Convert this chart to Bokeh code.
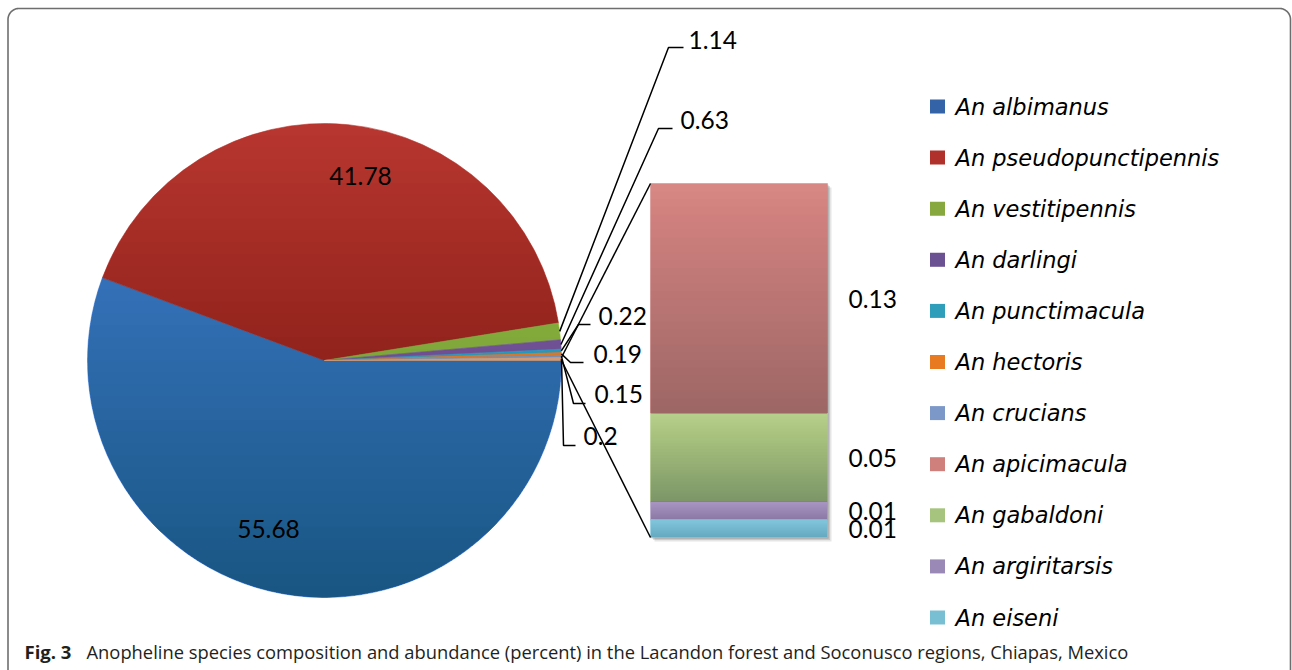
import numpy as np
from bokeh.plotting import figure
from bokeh.models import Range1d
from bokeh.core.properties import value
from bokeh.embed import file_html
from bokeh.resources import INLINE

# ---------------- data ----------------
species = ["An albimanus", "An pseudopunctipennis", "An vestitipennis", "An darlingi",
           "An punctimacula", "An hectoris", "An crucians", "An apicimacula",
           "An gabaldoni", "An argiritarsis", "An eiseni"]
percent = [55.68, 41.78, 1.14, 0.63, 0.22, 0.19, 0.15, 0.13, 0.05, 0.01, 0.01]

pie_values = percent[:7] + [round(sum(percent[7:]), 2)]   # last slice = "Other" (bar)
pie_labels = ["55.68", "41.78", "1.14", "0.63", "0.22", "0.19", "0.15", "0.2"]
bar_values = percent[7:]
bar_labels = ["0.13", "0.05", "0.01", "0.01"]
caption_bold = "Fig. 3"
caption_text = ("Anopheline species composition and abundance (percent) in the Lacandon forest "
                "and Soconusco regions, Chiapas, Mexico")

# ---------------- styles ----------------
pie_colors = ["#407DD1", "#B7362F", "#A4CC4C", "#8562B8", "#37BFE4", "#FF9638", "#95B3D7", "#FAC090"]
bar_colors = ["#D78885", "#B6D08B", "#A794C0", "#80C5DB"]
bar_dark = [0.77, 0.79, 0.87, 0.87]
legend_colors = ["#3463A8", "#B0302C", "#86A83F", "#6C5192", "#2E9EBB", "#E87A22",
                 "#7C98C8", "#CF807D", "#A6C47E", "#9A88B6", "#78BFD4"]

W, H = 1292, 670
def X(sx):  # screen x -> data
    return sx
def Y(sy):  # screen y -> data
    return H - sy

p = figure(width=W, height=H, x_range=Range1d(0, W), y_range=Range1d(0, H),
           output_backend="svg", toolbar_location=None, min_border=0,
           x_axis_type=None, y_axis_type=None)
p.grid.visible = False
p.outline_line_color = None
p.background_fill_color = "white"

# ---------------- pie ----------------
cx, cy, R = X(324), Y(360), 237
tot = sum(pie_values)
fr = np.array(pie_values) / tot
cum = np.concatenate([[0.0], np.cumsum(fr)])
a_lo = -cum[1:] * 2 * np.pi
a_hi = -cum[:-1] * 2 * np.pi
p.wedge(x=cx, y=cy, radius=R, start_angle=list(a_lo), end_angle=list(a_hi),
        fill_color=pie_colors, line_color=pie_colors, line_width=0.6)

# vertical darkening gradient overlay on the pie
N = 40
alpha = 1 - 0.68 ** (1.0 / N)
xs, ys = [], []
for k in range(1, N):
    q = 1 - 2.0 * k / N
    al = np.arcsin(q)
    phi = np.linspace(np.pi - al, 2 * np.pi + al, 160)
    xs.append(list(cx + R * np.cos(phi)))
    ys.append(list(cy + R * np.sin(phi)))
p.patches(xs=xs, ys=ys, fill_color="black", fill_alpha=alpha, line_color=None)

# big slice labels
big_pos = [(268, 528), (360, 175)]
p.text(x=[X(a) for a, b in big_pos], y=[Y(b) for a, b in big_pos], text=pie_labels[:2],
       text_font=value("Lato"), text_font_size="24.5px", text_align="center",
       text_baseline="middle", text_color="black")

# leader lines for small slices
mid = -(cum[:-1] + fr / 2) * 2 * np.pi
elbows = [(668, 47), (658, 128), (578, 324), (570, 362), (573, 403), (563, 445)]
ends = [(683, 47), (672, 128), (590, 324), (583, 362), (585, 403), (575, 445)]
lab_pos = [(688, 39), (680, 119), (598, 315), (593, 353), (594, 393), (583, 435)]
lxs, lys = [], []
for i in range(2, 8):
    j = i - 2
    ex, ey = cx + R * np.cos(mid[i]), cy + R * np.sin(mid[i])
    lxs.append([ex, X(elbows[j][0]), X(ends[j][0])])
    lys.append([ey, Y(elbows[j][1]), Y(ends[j][1])])
p.multi_line(xs=lxs, ys=lys, line_color="black", line_width=1.5)
p.text(x=[X(a) for a, b in lab_pos], y=[Y(b) for a, b in lab_pos], text=pie_labels[2:],
       text_font=value("Lato"), text_font_size="24.5px", text_align="left",
       text_baseline="middle", text_color="black")

# ---------------- bar of "other" ----------------
bl, br, bb = X(650), X(827), Y(537)
scale = (Y(183) - Y(537)) / sum(bar_values)
tops, bots = [], []
acc = bb
for v in reversed(bar_values):
    bots.insert(0, acc)
    acc += v * scale
    tops.insert(0, acc)
# shadow
for off, a in [(4, 0.10), (2.5, 0.12), (1.2, 0.14)]:
    p.quad(left=bl + off, right=br + off, bottom=bb - off, top=tops[0] - off,
           fill_color="black", fill_alpha=a, line_color=None)
p.quad(left=bl, right=br, bottom=bots, top=tops, fill_color=bar_colors,
       line_color=bar_colors, line_width=0.5)
# gradient overlay per segment
M = 30
ql, qr, qb, qt, qa = [], [], [], [], []
for i in range(len(bar_values)):
    a = 1 - bar_dark[i] ** (1.0 / M)
    h = tops[i] - bots[i]
    for k in range(1, M):
        ql.append(bl); qr.append(br); qb.append(bots[i])
        qt.append(tops[i] - h * k / M); qa.append(a)
p.quad(left=ql, right=qr, bottom=qb, top=qt, fill_color="black", fill_alpha=qa, line_color=None)

# connectors from the "Other" slice to the bar
oth_top = a_hi[7]
oth_bot = a_lo[7]
p.multi_line(xs=[[cx + R * np.cos(oth_top), bl], [cx + R * np.cos(oth_bot), bl]],
             ys=[[cy + R * np.sin(oth_top), tops[0]], [cy + R * np.sin(oth_bot), bb]],
             line_color="black", line_width=1.5)

bar_lab_y = [(t + b) / 2 for t, b in zip(tops, bots)]
p.text(x=[X(848)] * 4, y=bar_lab_y, text=bar_labels,
       text_font=value("Lato"), text_font_size="24.5px", text_align="left",
       text_baseline="middle", text_color="black")

# ---------------- legend ----------------
ly = [Y(106 + 51.1 * i) for i in range(len(species))]
p.rect(x=[X(937)] * len(species), y=ly, width=15, height=14,
       fill_color=legend_colors, line_color=None)
p.text(x=[X(955)] * len(species), y=ly, text=species,
       text_font=value("DejaVu Sans"), text_font_style="italic", text_font_size="22.5px",
       text_align="left", text_baseline="middle", text_color="black")

# ---------------- caption ----------------
p.text(x=[X(24)], y=[Y(651)], text=[caption_bold], text_font=value("Open Sans"),
       text_font_style="bold", text_font_size="18.5px", text_baseline="middle",
       text_color="#231F20")
p.text(x=[X(86)], y=[Y(651)], text=[caption_text], text_font=value("Open Sans"),
       text_font_size="18.35px", text_baseline="middle", text_color="#231F20")

# ---------------- rounded border ----------------
rr = 11
x0, x1, yt = 7.5, 1290.0, Y(8)
t1 = np.linspace(np.pi, np.pi / 2, 20)
t2 = np.linspace(np.pi / 2, 0, 20)
bx = [x0] + list(x0 + rr + rr * np.cos(t1)) + list(x1 - rr + rr * np.cos(t2)) + [x1]
by = [-10] + list(yt - rr + rr * np.sin(t1)) + list(yt - rr + rr * np.sin(t2)) + [-10]
p.line(x=bx, y=by, line_color="#6E6E6E", line_width=1.6)

open("out.html", "w").write(file_html(p, INLINE))
